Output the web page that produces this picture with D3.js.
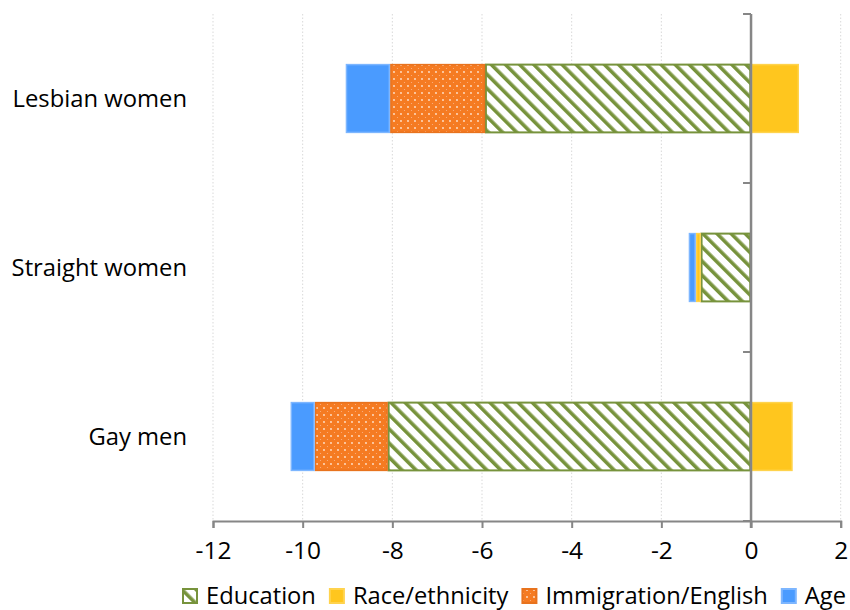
<!DOCTYPE html>
<html>
<head>
<meta charset="utf-8">
<script src="https://cdn.jsdelivr.net/npm/d3@7"></script>
<style>
  html, body { margin: 0; padding: 0; background: #fff; }
  svg { display: block; font-family: "Open Sans", "Noto Sans", sans-serif; }
</style>
</head>
<body>
<svg id="chart" width="850" height="610"></svg>
<script>
// Decomposition of the wage gap by factor, per group
const categories = ["Lesbian women", "Straight women", "Gay men"];
const seriesNames = ["Education", "Race/ethnicity", "Immigration/English", "Age"];
const education   = [-5.93, -1.12, -8.10];
const race        = [1.07, -0.11, 0.93];
const immigration = [-2.12, 0, -1.63];
const age         = [-0.99, -0.16, -0.54];
const xTicks = [-12, -10, -8, -6, -4, -2, 0, 2];

const seriesValues = [education, race, immigration, age];
const fills = ["url(#hatch)", "#FFC61E", "url(#dots)", "#4A9BFF"];
const strokes = ["#77933C", "#FFD34D", "#E8731E", "#7DB6FF"];

const svg = d3.select("#chart");

// Patterns: diagonal hatch and dotted fill
const defs = svg.append("defs");
const hatch = defs.append("pattern")
  .attr("id", "hatch").attr("patternUnits", "userSpaceOnUse")
  .attr("width", 10).attr("height", 10)
  .attr("patternTransform", "rotate(-45)");
hatch.append("rect").attr("width", 10).attr("height", 10).attr("fill", "#fff");
hatch.append("rect").attr("x", 0).attr("y", 0).attr("width", 3.6).attr("height", 10).attr("fill", "#77933C");

const dots = defs.append("pattern")
  .attr("id", "dots").attr("patternUnits", "userSpaceOnUse")
  .attr("width", 7).attr("height", 7);
dots.append("rect").attr("width", 7).attr("height", 7).attr("fill", "#F57B22");
dots.append("circle").attr("cx", 2).attr("cy", 2).attr("r", 0.9).attr("fill", "#FFE6D2");
dots.append("circle").attr("cx", 5.5).attr("cy", 5.5).attr("r", 0.6).attr("fill", "#FBB585");

const x = d3.scaleLinear().domain([-12, 2]).range([213, 840.7]);
const y = d3.scaleBand().domain(categories).range([14, 521])
  .paddingInner(0.59).paddingOuter(0.295);

// Vertical dotted gridlines
svg.append("g").selectAll("line").data(xTicks.filter(t => t !== 0)).join("line")
  .attr("x1", d => x(d)).attr("x2", d => x(d))
  .attr("y1", 14).attr("y2", 521)
  .attr("stroke", "#D9D9D9").attr("stroke-width", 1)
  .attr("stroke-dasharray", "1.5,2");

// Stacked bars: negative values stack leftward, positive rightward
const stacked = [];
categories.forEach((c, i) => {
  let neg = 0, pos = 0;
  seriesValues.forEach((vals, s) => {
    const v = vals[i];
    if (v === 0) return;
    let x0, x1;
    if (v < 0) { x0 = neg + v; x1 = neg; neg += v; }
    else { x0 = pos; x1 = pos + v; pos += v; }
    stacked.push({ cat: c, s, x0, x1 });
  });
});

svg.append("g").selectAll("rect").data(stacked).join("rect")
  .attr("x", d => x(d.x0) + 0.75)
  .attr("y", d => y(d.cat) + 0.75)
  .attr("width", d => Math.max(0, x(d.x1) - x(d.x0) - 1.5))
  .attr("height", y.bandwidth() - 1.5)
  .attr("fill", d => fills[d.s])
  .attr("stroke", d => strokes[d.s])
  .attr("stroke-width", d => d.s === 0 ? 2 : 1.5);

// Horizontal axis
const xAxis = d3.axisBottom(x).tickValues(xTicks).tickSize(7).tickPadding(14)
  .tickFormat(d => d < 0 ? "-" + Math.abs(d) : String(d));
const gx = svg.append("g").attr("transform", "translate(0,521)").call(xAxis);
gx.select(".domain").attr("stroke", "#868686").attr("stroke-width", 2);
gx.selectAll(".tick line").attr("stroke", "#868686").attr("stroke-width", 2);
gx.selectAll(".tick text").attr("font-size", 24.5).attr("fill", "#000")
  .attr("font-family", "'Open Sans', sans-serif");

// Vertical axis at zero with ticks at band boundaries
const step = y.step();
const yBounds = d3.range(categories.length + 1).map(i => y.range()[0] + i * step);
const gy = svg.append("g");
gy.append("line")
  .attr("x1", x(0)).attr("x2", x(0))
  .attr("y1", yBounds[0]).attr("y2", yBounds[yBounds.length - 1] + 7)
  .attr("stroke", "#868686").attr("stroke-width", 2.5);
gy.selectAll("line.tk").data(yBounds).join("line").attr("class", "tk")
  .attr("x1", x(0) - 8).attr("x2", x(0))
  .attr("y1", d => d).attr("y2", d => d)
  .attr("stroke", "#868686").attr("stroke-width", 2);

// Category labels
svg.append("g").selectAll("text").data(categories).join("text")
  .attr("x", 187)
  .attr("y", d => y(d) + y.bandwidth() / 2 + 8.5)
  .attr("text-anchor", "end")
  .attr("font-size", 23.8)
  .attr("fill", "#000")
  .text(d => d);

// Legend
const legendFills = ["url(#hatch)", "#FFC61E", "url(#dots)", "#4A9BFF"];
const legend = svg.append("g");
let lx = 182;
seriesNames.forEach((name, i) => {
  legend.append("rect")
    .attr("x", lx + 1).attr("y", 589).attr("width", 14).attr("height", 14)
    .attr("fill", legendFills[i]).attr("stroke", strokes[i]).attr("stroke-width", 2);
  const t = legend.append("text")
    .attr("x", lx + 24).attr("y", 604)
    .attr("font-size", 23.7).attr("fill", "#000")
    .text(name);
  lx += 24 + t.node().getComputedTextLength() + 13;
});
</script>
</body>
</html>
